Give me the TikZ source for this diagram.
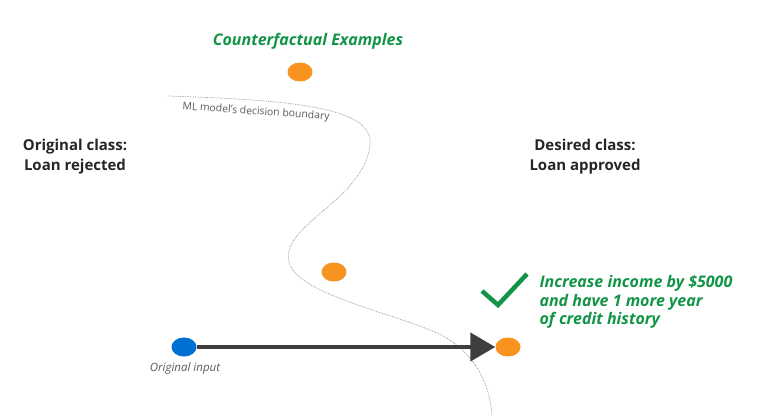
\documentclass[tikz,border=0pt]{standalone}
\usepackage{fontspec}
\setmainfont{Open Sans}
\usetikzlibrary{arrows.meta,shapes.geometric}
\definecolor{cfgreen}{RGB}{18,148,70}
\definecolor{cforange}{RGB}{247,147,30}
\definecolor{cfblue}{RGB}{0,112,212}
\definecolor{cfdark}{RGB}{62,62,62}
\definecolor{cfgray}{RGB}{90,90,90}

\begin{document}
\begin{tikzpicture}[x=1pt,y=-1pt,
  dot/.style={ellipse,inner sep=0pt,minimum width=25pt,minimum height=19pt},
  classlbl/.style={align=center,font=\bfseries\fontsize{15}{20}\selectfont,text=black!85},
  greenlbl/.style={text=cfgreen,font=\bfseries\itshape\fontsize{16}{18.5}\selectfont},
  smalllbl/.style={text=cfgray,font=\fontsize{10.4}{11}\selectfont}]
\path[use as bounding box] (0,0) rectangle (765,416);
% decision boundary
\draw[black!45,line width=.7pt,densely dotted] (168,96) .. controls (280,100) and (375,105) .. (370,145)
  .. controls (364,200) and (280,225) .. (289,262)
  .. controls (296,292) and (380,310) .. (430,330)
  .. controls (470,345) and (490,380) .. (492,416);
\node[smalllbl,rotate=-4] (bndlbl) at (256,112) {ML model's decision boundary};

\node[greenlbl] (title) at (308,41) {Counterfactual Examples};
\node[classlbl] (origcls) at (75,157) {Original class:\\Loan rejected};
\node[classlbl] (desircls) at (585,157) {Desired class:\\Loan approved};

% points
\node[dot,fill=cforange] (cf1) at (300,72) {};
\node[dot,fill=cforange] (cf2) at (334,272) {};
\node[dot,fill=cforange] (cf3) at (508,347) {};
\node[dot,fill=cfblue] (orig) at (184,347) {};
\node[smalllbl,font=\itshape\fontsize{11.5}{12}\selectfont] (origlbl) at (185,369) {Original input};

\draw[cfdark,line width=4.5pt,-{Triangle[length=25pt,width=28pt]}] (orig.east) -- (cf3.west);

% explanation
\draw[cfgreen,line width=4.5pt] (482,291) -- (498,305) -- (527,274);
\node[greenlbl,anchor=north west,align=left] (expl) at (536,272) {Increase income by \$5000\\and have 1 more year\\of credit history};
\end{tikzpicture}
\end{document}
